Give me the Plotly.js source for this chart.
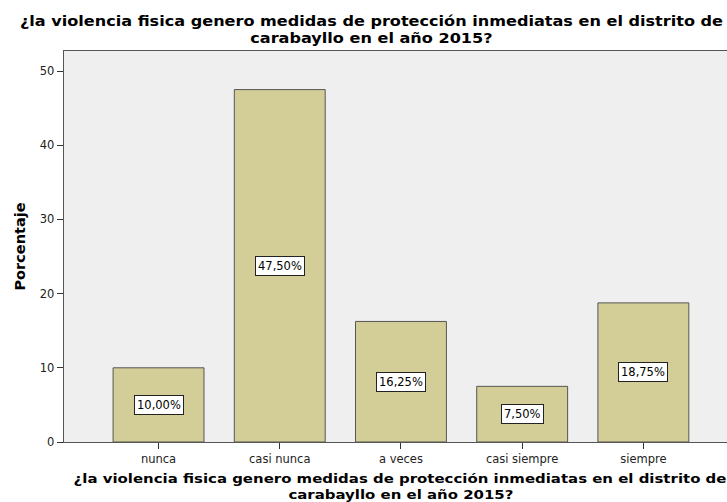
<!DOCTYPE html>
<html>
<head>
<meta charset="utf-8">
<script src="https://cdn.plot.ly/plotly-3.0.1.min.js"></script>
<style>html,body{margin:0;padding:0;background:#fff;}#chart{width:727px;height:502px;}</style>
</head>
<body>
<div id="chart"></div>
<script>
const categories = ["nunca", "casi nunca", "a veces", "casi siempre", "siempre"];
const percentages = [10.00, 47.50, 16.25, 7.50, 18.75];
const valueLabels = ["10,00%", "47,50%", "16,25%", "7,50%", "18,75%"];
const yTickValues = [0, 10, 20, 30, 40, 50];
const titleLine1 = "¿la violencia fisica genero medidas de protección inmediatas en el distrito de";
const titleLine2 = "carabayllo en el año 2015?";
const yAxisTitle = "Porcentaje";

const idx = categories.map((c, i) => i);

const trace = {
  type: "bar",
  x: idx,
  y: percentages,
  width: 0.75,
  marker: { color: "#d3ce97", line: { color: "#555555", width: 1 } },
  hoverinfo: "skip"
};

const annotations = idx.map(i => ({
  x: i, y: percentages[i] / 2, xref: "x", yref: "y",
  text: valueLabels[i], showarrow: false,
  font: { family: "DejaVu Sans", size: 11.5, color: "#000" },
  bgcolor: "#ffffff", bordercolor: "#222222", borderwidth: 1, borderpad: 2,
  xanchor: "center", yanchor: "middle"
}));

const titleFont = { family: "DejaVu Sans", size: 14, color: "#000", weight: "bold" };
const xTitleFont = { family: "DejaVu Sans", size: 13, color: "#000", weight: "bold" };

// second line of the chart title
annotations.push({
  xref: "paper", yref: "paper", x: (371 - 64) / 663, y: (442 - 37.7) / 391,
  text: titleLine2, showarrow: false, xanchor: "center", yanchor: "middle",
  font: titleFont
});
// x-axis title, two lines
annotations.push({
  xref: "paper", yref: "paper", x: (400 - 64) / 663, y: (442 - 478.5) / 391,
  text: titleLine1, showarrow: false, xanchor: "center", yanchor: "middle",
  font: xTitleFont
});
annotations.push({
  xref: "paper", yref: "paper", x: (400.5 - 64) / 663, y: (442 - 494) / 391,
  text: titleLine2, showarrow: false, xanchor: "center", yanchor: "middle",
  font: xTitleFont
});

const layout = {
  width: 727, height: 502,
  margin: { l: 64, r: 0, t: 51, b: 60, pad: 0 },
  paper_bgcolor: "#ffffff",
  plot_bgcolor: "#efefef",
  showlegend: false,
  title: {
    text: titleLine1,
    x: 371.5 / 727, xanchor: "center", xref: "container",
    y: 1 - 21.0 / 502, yanchor: "middle", yref: "container",
    font: titleFont
  },
  xaxis: {
    range: [-0.78, 4.69],
    tickmode: "array", tickvals: idx, ticktext: categories,
    ticks: "outside", ticklen: 6, tickcolor: "#333", tickwidth: 1,
    showline: true, linecolor: "#555", linewidth: 1.3, mirror: true,
    showgrid: false, zeroline: false,
    tickfont: { family: "DejaVu Sans", size: 11.5, color: "#222" },
    fixedrange: true
  },
  yaxis: {
    range: [0, 52.7],
    tickmode: "array", tickvals: yTickValues,
    ticks: "outside", ticklen: 6, tickcolor: "#333", tickwidth: 1,
    showline: true, linecolor: "#555", linewidth: 1.3,
    showgrid: false, zeroline: false,
    tickfont: { family: "DejaVu Sans", size: 11.5, color: "#222" },
    title: { text: yAxisTitle, font: { family: "DejaVu Sans", size: 14.5, color: "#000", weight: "bold" }, standoff: 10 },
    fixedrange: true
  },
  annotations: annotations,
  bargap: 0.25
};

function stretch(el, f) {
  el.style.transformBox = "fill-box";
  el.style.transformOrigin = "center";
  el.style.transform = "scaleX(" + f + ")";
}

Plotly.newPlot("chart", [trace], layout, { displayModeBar: false, staticPlot: true }).then(gd => {
  const t = gd.querySelector("text.gtitle");
  if (t) stretch(t, 1.15);
  gd.querySelectorAll("g.annotation").forEach(g => {
    const k = +g.getAttribute("data-index");
    if (k >= categories.length) {
      const tx = g.querySelector("text.annotation-text");
      if (tx) stretch(tx, 1.15);
    }
  });
});
</script>
</body>
</html>
